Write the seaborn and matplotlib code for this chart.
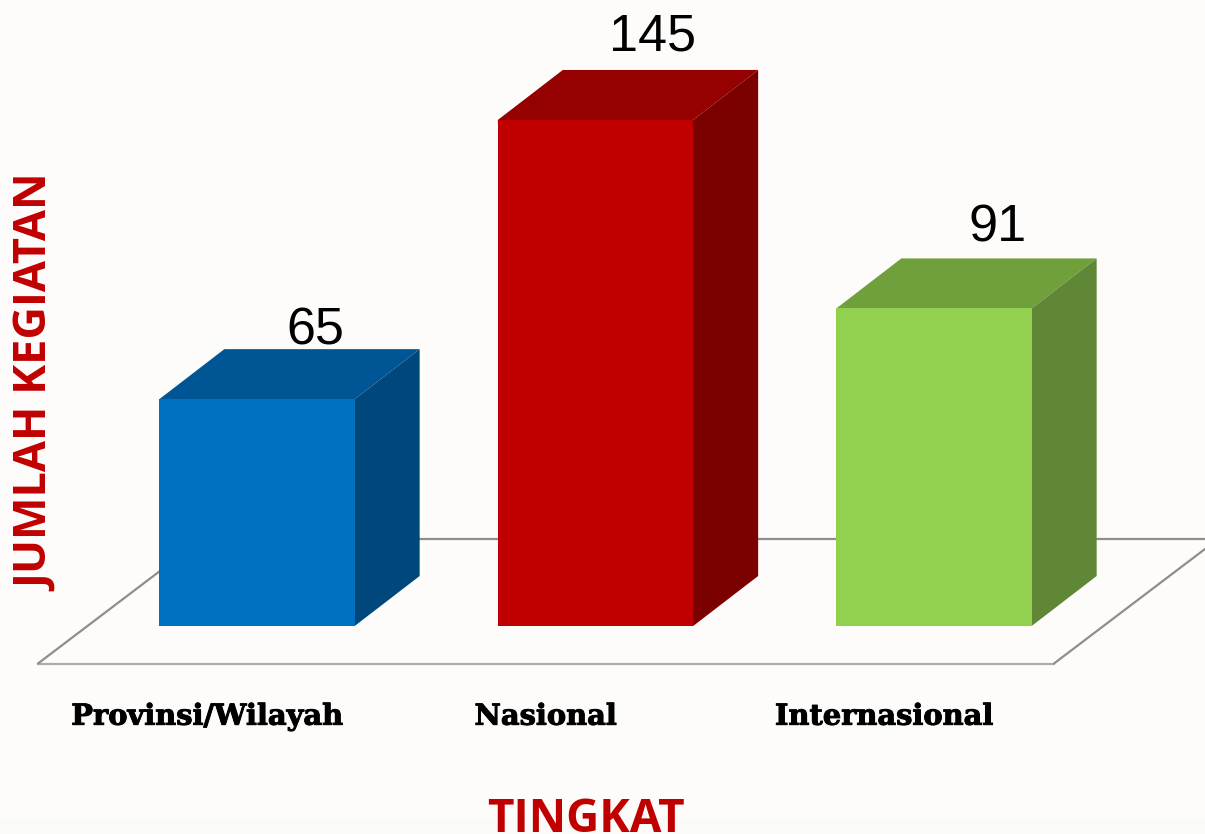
import numpy as np
import pandas as pd
import matplotlib
matplotlib.use('Agg')
import matplotlib.pyplot as plt
import matplotlib.patheffects as pe
from matplotlib.patches import Polygon
import seaborn as sns

# data
tingkat = ['Provinsi/Wilayah', 'Nasional', 'Internasional']
jumlah = [65, 145, 91]

# colours of each box: front, top, side
warna_depan = ['#0070C0', '#C00000', '#92D050']
warna_atas = ['#005694', '#950000', '#70A03C']
warna_sisi = ['#00477C', '#7B0000', '#5F8735']
bg = '#FDFCFA'

# picture scale (pixels per unit)
px_x = 338.5
px_y = 3.49
x0_px = 257
y0_px = 626
dx = 65 / px_x
dy = 50 / px_y


def pos(x, y):
    return (x - x0_px) / px_x, (y0_px - y) / px_y


sns.set_theme(style='white')

df = pd.DataFrame({'tingkat': tingkat, 'jumlah': jumlah})

fig = plt.figure(figsize=(12.05, 8.34), dpi=100, facecolor=bg)
ax = fig.add_axes([0, (834 - y0_px) / 834, 1, y0_px / 834])
ax.set_facecolor('none')

sns.barplot(data=df, x='tingkat', y='jumlah', hue='tingkat', palette=warna_depan,
            saturation=1, width=0.577, legend=False, ax=ax, zorder=4, linewidth=0)

ax.set_xlim(-x0_px / px_x, (1205 - x0_px) / px_x)
ax.set_ylim(0, y0_px / px_y)
sns.despine(ax=ax, left=True, bottom=True)
ax.set_yticks([])

# floor
garis = '#8E8E8E'
ax.plot(*zip(pos(38, 663.5), pos(1054, 663.5)), color='#ABABAB', lw=1.6, clip_on=False, zorder=1)
ax.plot(*zip(pos(38, 663.5), pos(160, 571)), color=garis, lw=1.6, clip_on=False, zorder=1)
ax.plot(*zip(pos(1054, 663.5), pos(1205, 549)), color=garis, lw=1.6, clip_on=False, zorder=1)
ax.plot(*zip(pos(354, 538.5), pos(1205, 538.5)), color=garis, lw=1.6, clip_on=False, zorder=1)

# top and side faces, tucked a little under the front so no seam shows
for bar, atas, sisi in zip(ax.patches, warna_atas, warna_sisi):
    x = bar.get_x()
    w = bar.get_width()
    h = bar.get_height()
    ax.add_patch(Polygon([(x, h - 1), (x + w, h - 1), (x + w, h), (x + w + dx, h + dy), (x + dx, h + dy), (x, h)],
                         facecolor=atas, edgecolor='none', zorder=2.5))
    ax.add_patch(Polygon([(x + w - 0.01, 0), (x + w, 0), (x + w + dx, dy), (x + w + dx, h + dy), (x + w, h), (x + w - 0.01, h)],
                         facecolor=sisi, edgecolor='none', zorder=3))

# value labels
geser_x = [58, 57.5, 64]
geser_y = [5, 19, 17]
for i, v in enumerate(jumlah):
    ax.annotate(str(v), (i, v + dy), xytext=(geser_x[i] * 0.72, geser_y[i] * 0.72),
                textcoords='offset points', ha='center', va='baseline',
                fontsize=37.5, color='black', family='Liberation Sans', annotation_clip=False)

# category labels sit 50 px left of the bars
ax.set_xticks(np.arange(len(tingkat)) - 50 / px_x)
ax.set_xticklabels(tingkat, family='DejaVu Serif', fontweight='bold', fontsize=20.8, color='black')
ax.tick_params(axis='x', length=0, pad=54.5)
for t in ax.get_xticklabels():
    t.set_path_effects([pe.withStroke(linewidth=0.7, foreground='black')])

ax.set_xlabel('TINGKAT', family='Open Sans', fontweight='bold', fontsize=33, color='#C00000')
ax.xaxis.set_label_coords(586 / 1205, (y0_px - 831.5) / y0_px)
ax.xaxis.label.set_va('baseline')
ax.set_ylabel('JUMLAH KEGIATAN', family='Open Sans', fontweight='bold', fontsize=32.5, color='#C00000')
ax.yaxis.set_label_coords(38 / 1205, (y0_px - 383) / y0_px)
ax.yaxis.label.set_va('center')

# slightly greyer strip along the bottom edge
fig.patches.append(plt.Rectangle((0, 0), 1, 16 / 834, transform=fig.transFigure,
                                 facecolor='#FAFAF9', edgecolor='none', zorder=-1))

plt.savefig('out.png', dpi=100, facecolor=bg)
